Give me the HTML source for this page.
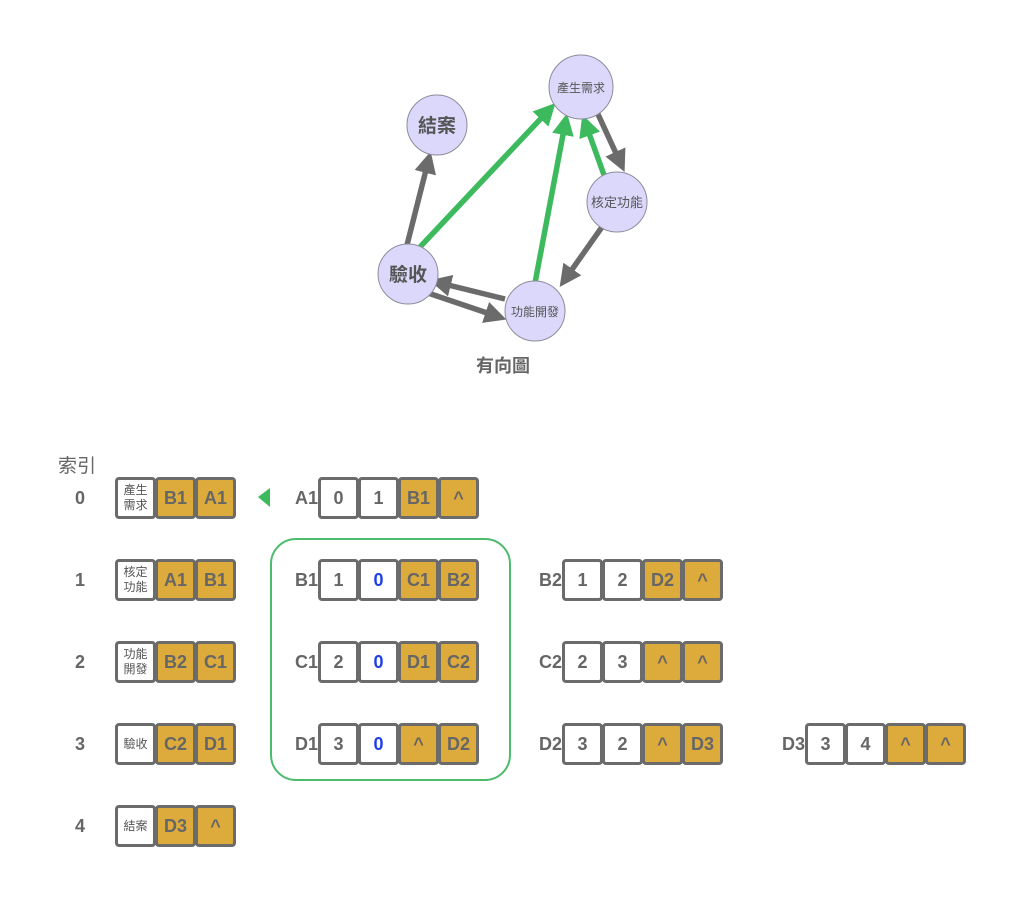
<!DOCTYPE html>
<html><head><meta charset="utf-8"><style>
body{margin:0;width:1024px;height:906px;background:#fff;position:relative;overflow:hidden;font-family:"Liberation Sans","Noto Sans CJK TC",sans-serif;color:#676767}
.c{position:absolute;width:41px;height:42px;box-sizing:border-box;border:3px solid #6b6b6b;border-radius:4px;background:#fff;display:flex;align-items:center;justify-content:center;font-weight:bold;font-size:18px;color:#666}
.g{background:#dcab3c}
.s{font-weight:normal;font-size:12px;line-height:15px;text-align:center;color:#555}
.b{color:#1f3fe8}
.l{position:absolute;font-weight:bold;font-size:18px;color:#666;width:40px;text-align:right}
.i{position:absolute;font-weight:bold;font-size:18px;color:#666;width:20px;text-align:center;left:70px}
</style></head><body>
<svg width="1024" height="400" style="position:absolute;left:0;top:0">
<defs>
<marker id="ag" markerWidth="4" markerHeight="4" refX="2" refY="2" orient="auto" markerUnits="strokeWidth"><path d="M0,0 L4,2 L0,4 Z" fill="#6b6b6b"/></marker>
<marker id="ae" markerWidth="4" markerHeight="4" refX="2" refY="2" orient="auto" markerUnits="strokeWidth"><path d="M0,0 L4,2 L0,4 Z" fill="#3dba5e"/></marker>
</defs>
<g stroke-width="5.5" fill="none">
<line x1="407" y1="245" x2="428" y2="162" stroke="#6b6b6b" marker-end="url(#ag)"/>
<line x1="420" y1="247" x2="548" y2="111" stroke="#3dba5e" marker-end="url(#ae)"/>
<line x1="535" y1="283" x2="565" y2="124" stroke="#3dba5e" marker-end="url(#ae)"/>
<line x1="604" y1="175" x2="586" y2="125" stroke="#3dba5e" marker-end="url(#ae)"/>
<line x1="597" y1="112" x2="620" y2="162" stroke="#6b6b6b" marker-end="url(#ag)"/>
<line x1="602" y1="227" x2="566" y2="278" stroke="#6b6b6b" marker-end="url(#ag)"/>
<line x1="505" y1="299" x2="440" y2="283" stroke="#6b6b6b" marker-end="url(#ag)"/>
<line x1="428" y1="293" x2="496" y2="316" stroke="#6b6b6b" marker-end="url(#ag)"/>
</g>
<g fill="#dcd8fb" stroke="#8c8c9c" stroke-width="1">
<circle cx="581" cy="87" r="32"/><circle cx="437" cy="125" r="30"/><circle cx="617" cy="202" r="30"/><circle cx="408" cy="274" r="30"/><circle cx="535" cy="311" r="30"/>
</g>
<g fill="#555" font-family="Liberation Sans,Noto Sans CJK TC,sans-serif" text-anchor="middle">
<text x="581" y="92" font-size="12">產生需求</text>
<text x="437" y="132" font-size="19" font-weight="bold">結案</text>
<text x="617" y="207" font-size="13">核定功能</text>
<text x="408" y="281" font-size="19" font-weight="bold">驗收</text>
<text x="535" y="316" font-size="12">功能開發</text>
<text x="503" y="372" font-size="18" font-weight="bold" fill="#666">有向圖</text>
</g>
</svg>
<div style="position:absolute;left:58px;top:451px;font-size:19px;color:#666">索引</div>
<svg width="20" height="30" style="position:absolute;left:255px;top:485px"><path d="M3,12 L15,3 L15,22 Z" fill="#3dba5e"/></svg>
<div style="position:absolute;left:270px;top:538px;width:241px;height:243px;box-sizing:border-box;border:2.5px solid #4cbb6c;border-radius:26px"></div>

<div class="i" style="top:488px">0</div><div class="i" style="top:570px">1</div><div class="i" style="top:652px">2</div><div class="i" style="top:734px">3</div><div class="i" style="top:816px">4</div>

<div class="c" style="left:115px;top:477px"><div class="s">產生<br>需求</div></div><div class="c g" style="left:155px;top:477px">B1</div><div class="c g" style="left:195px;top:477px">A1</div>
<div class="c" style="left:115px;top:559px"><div class="s">核定<br>功能</div></div><div class="c g" style="left:155px;top:559px">A1</div><div class="c g" style="left:195px;top:559px">B1</div>
<div class="c" style="left:115px;top:641px"><div class="s">功能<br>開發</div></div><div class="c g" style="left:155px;top:641px">B2</div><div class="c g" style="left:195px;top:641px">C1</div>
<div class="c" style="left:115px;top:723px"><div class="s">驗收</div></div><div class="c g" style="left:155px;top:723px">C2</div><div class="c g" style="left:195px;top:723px">D1</div>
<div class="c" style="left:115px;top:805px"><div class="s">結案</div></div><div class="c g" style="left:155px;top:805px">D3</div><div class="c g" style="left:195px;top:805px">^</div>

<div class="l" style="left:278px;top:488px">A1</div>
<div class="c" style="left:318px;top:477px">0</div><div class="c" style="left:358px;top:477px">1</div><div class="c g" style="left:398px;top:477px">B1</div><div class="c g" style="left:438px;top:477px">^</div>
<div class="l" style="left:278px;top:570px">B1</div>
<div class="c" style="left:318px;top:559px">1</div><div class="c b" style="left:358px;top:559px">0</div><div class="c g" style="left:398px;top:559px">C1</div><div class="c g" style="left:438px;top:559px">B2</div>
<div class="l" style="left:278px;top:652px">C1</div>
<div class="c" style="left:318px;top:641px">2</div><div class="c b" style="left:358px;top:641px">0</div><div class="c g" style="left:398px;top:641px">D1</div><div class="c g" style="left:438px;top:641px">C2</div>
<div class="l" style="left:278px;top:734px">D1</div>
<div class="c" style="left:318px;top:723px">3</div><div class="c b" style="left:358px;top:723px">0</div><div class="c g" style="left:398px;top:723px">^</div><div class="c g" style="left:438px;top:723px">D2</div>

<div class="l" style="left:522px;top:570px">B2</div>
<div class="c" style="left:562px;top:559px">1</div><div class="c" style="left:602px;top:559px">2</div><div class="c g" style="left:642px;top:559px">D2</div><div class="c g" style="left:682px;top:559px">^</div>
<div class="l" style="left:522px;top:652px">C2</div>
<div class="c" style="left:562px;top:641px">2</div><div class="c" style="left:602px;top:641px">3</div><div class="c g" style="left:642px;top:641px">^</div><div class="c g" style="left:682px;top:641px">^</div>
<div class="l" style="left:522px;top:734px">D2</div>
<div class="c" style="left:562px;top:723px">3</div><div class="c" style="left:602px;top:723px">2</div><div class="c g" style="left:642px;top:723px">^</div><div class="c g" style="left:682px;top:723px">D3</div>

<div class="l" style="left:765px;top:734px">D3</div>
<div class="c" style="left:805px;top:723px">3</div><div class="c" style="left:845px;top:723px">4</div><div class="c g" style="left:885px;top:723px">^</div><div class="c g" style="left:925px;top:723px">^</div>
</body></html>
